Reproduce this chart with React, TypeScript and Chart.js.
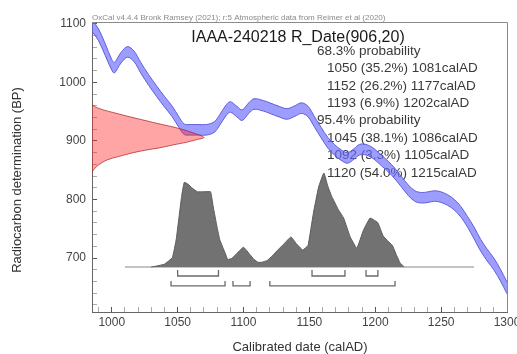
import React, { useEffect, useRef } from "react";
import { Chart, registerables } from "chart.js";

Chart.register(...registerables);

// Calibration curve (IntCal20)
const curveYears = [985, 990, 995, 1000, 1002, 1007, 1012, 1017, 1022, 1028, 1034, 1040, 1046, 1051, 1055, 1060, 1066, 1072, 1078, 1082, 1087, 1090, 1095, 1099, 1104, 1108, 1115, 1120, 1127, 1133, 1139, 1144, 1149, 1154, 1159, 1164, 1169, 1174, 1179, 1184, 1188, 1193, 1199, 1205, 1210, 1215, 1220, 1225, 1230, 1235, 1240, 1245, 1250, 1255, 1260, 1265, 1270, 1275, 1280, 1285, 1290, 1295, 1300];
const curveBP = [1097, 1081, 1056, 1030, 1025, 1042, 1052, 1044, 1025, 1004, 985, 967, 950, 932, 920, 919, 919, 919, 924, 936, 953, 958, 950, 944, 956, 963, 960, 956, 950, 946, 951, 956, 950, 932, 914, 897, 885, 876, 871, 878, 885, 885, 878, 866, 856, 844, 830, 816, 806, 803, 804, 806, 804, 799, 791, 779, 762, 743, 722, 705, 690, 671, 649];
const curveSigma = [10, 10, 10, 9, 9, 9, 9, 9, 9, 9, 9, 9, 9, 9, 9, 9, 9, 9, 9, 9, 9, 9, 9, 9, 9, 9, 9, 9, 9, 9, 9, 9, 9, 9, 9, 9, 9, 9, 9, 9, 9, 9, 9, 9, 9, 9, 9, 9, 9, 9, 9, 9, 9, 9, 9, 9, 9, 10, 10, 10, 10, 10, 10];

// Calibrated probability distribution (relative)
const histYears = [1030, 1034, 1040, 1046, 1049, 1053, 1055, 1058, 1061, 1065, 1070, 1075, 1077, 1080, 1082, 1086, 1088, 1091, 1094, 1100, 1105, 1108, 1111, 1114, 1118, 1122, 1126, 1131, 1136, 1140, 1145, 1149, 1153, 1157, 1161, 1164, 1167, 1172, 1176, 1181, 1186, 1191, 1196, 1199, 1202, 1206, 1210, 1213, 1216, 1219, 1222];
const histProb = [0, 0.01, 0.03, 0.1, 0.3, 0.75, 0.9, 0.88, 0.84, 0.8, 0.8, 0.8, 0.64, 0.42, 0.29, 0.15, 0.08, 0.09, 0.13, 0.21, 0.13, 0.08, 0.05, 0.05, 0.07, 0.12, 0.18, 0.25, 0.32, 0.25, 0.18, 0.23, 0.57, 0.85, 1.0, 0.86, 0.75, 0.61, 0.52, 0.32, 0.2, 0.39, 0.52, 0.5, 0.47, 0.33, 0.27, 0.23, 0.13, 0.04, 0];

// Radiocarbon measurement R_Date(906,20) shown on the BP axis (relative)
const rdateBP = [846, 850, 856, 862, 868, 873, 880, 885, 888, 893, 898, 902, 906, 914, 919, 924, 930, 936, 942, 948, 953, 958, 962];
const rdateProb = [0, 0.01, 0.04, 0.08, 0.14, 0.23, 0.37, 0.5, 0.6, 0.72, 0.85, 0.93, 1.0, 0.9, 0.82, 0.72, 0.58, 0.45, 0.32, 0.2, 0.1, 0.03, 0];

// Ranges
const range68Start = [1050, 1152, 1193];
const range68End = [1081, 1177, 1202];
const range68Pct = ["35.2", "26.2", "6.9"];
const range95Start = [1045, 1092, 1120];
const range95End = [1086, 1105, 1215];
const range95Pct = ["38.1", "3.3", "54.0"];

const xMajorTicks = [1000, 1050, 1100, 1150, 1200, 1250, 1300];
const yMajorTicks = [700, 800, 900, 1000, 1100];

const headerText = "OxCal v4.4.4 Bronk Ramsey (2021); r:5 Atmospheric data from Reimer et al (2020)";
const titleText = "IAAA-240218 R_Date(906,20)";
const xTitle = "Calibrated date (calAD)";
const yTitle = "Radiocarbon determination (BP)";

const FONT = "'Liberation Sans', Arial, Helvetica, sans-serif";

export default function App() {
  const ref = useRef<HTMLCanvasElement>(null);

  useEffect(() => {
    const canvas = ref.current;
    if (!canvas) return;

    const upper = curveYears.map((x, i) => ({ x, y: curveBP[i] + curveSigma[i] }));
    const lower = curveYears.map((x, i) => ({ x, y: curveBP[i] - curveSigma[i] }));
    const hist = histYears.map((x, i) => ({ x, y: histProb[i] }));
    const rdate = rdateBP.map((y, i) => ({ x: rdateProb[i], y }));

    const row68Line = -0.096, row68Tick = -0.032;
    const row95Line = -0.202, row95Tick = -0.149;
    const bracket = (s: number, e: number, line: number, tick: number) => ({
      type: "line",
      data: [
        { x: s, y: tick },
        { x: s, y: line },
        { x: e, y: line },
        { x: e, y: tick },
      ],
      xAxisID: "x",
      yAxisID: "y2",
      borderColor: "#6a6a6a",
      borderWidth: 1.3,
      pointRadius: 0,
      tension: 0,
      fill: false,
    });
    const brackets: any[] = [];
    range68Start.forEach((s, i) => brackets.push(bracket(s, range68End[i], row68Line, row68Tick)));
    range95Start.forEach((s, i) => brackets.push(bracket(s, range95End[i], row95Line, row95Tick)));

    const lines68 = range68Start.map((s, i) => `${s} (${range68Pct[i]}%) ${range68End[i]}calAD`);
    const lines95 = range95Start.map((s, i) => `${s} (${range95Pct[i]}%) ${range95End[i]}calAD`);

    const textPlugin = {
      id: "oxcalText",
      beforeDatasetsDraw(chart: any) {
        const { ctx, chartArea: ca } = chart;
        ctx.save();
        ctx.textBaseline = "middle";
        ctx.fillStyle = "#1a1a1a";
        ctx.font = `16px ${FONT}`;
        ctx.textAlign = "center";
        ctx.fillText(titleText, ca.left + 206, ca.top + 16);
        ctx.font = `13.5px ${FONT}`;
        ctx.fillStyle = "#3a3a3a";
        ctx.textAlign = "left";
        const step = 17.4;
        let y = ca.top + 29;
        ctx.fillText("68.3% probability", ca.left + 225, y);
        lines68.forEach((t) => {
          y += step;
          ctx.fillText(t, ca.left + 235, y);
        });
        y += step;
        ctx.fillText("95.4% probability", ca.left + 225, y);
        lines95.forEach((t) => {
          y += step;
          ctx.fillText(t, ca.left + 235, y);
        });
        ctx.restore();
      },
      afterDraw(chart: any) {
        const { ctx, chartArea: ca } = chart;
        ctx.save();
        // top and right frame
        ctx.strokeStyle = "#8a8a8a";
        ctx.lineWidth = 1;
        ctx.beginPath();
        ctx.moveTo(ca.left, ca.top + 0.5);
        ctx.lineTo(ca.right + 0.5, ca.top + 0.5);
        ctx.lineTo(ca.right + 0.5, ca.bottom);
        ctx.stroke();
        // header
        ctx.fillStyle = "#8a8a8a";
        ctx.font = `8px ${FONT}`;
        ctx.textAlign = "left";
        ctx.textBaseline = "alphabetic";
        ctx.fillText(headerText, ca.left, ca.top - 2);
        // axis titles
        ctx.fillStyle = "#333";
        ctx.font = `13px ${FONT}`;
        ctx.textAlign = "center";
        ctx.textBaseline = "middle";
        ctx.fillText(xTitle, 300, 347);
        ctx.translate(17, 180);
        ctx.rotate(-Math.PI / 2);
        ctx.fillText(yTitle, 0, 0);
        ctx.restore();
      },
    };

    const chart = new Chart(canvas, {
      type: "line",
      data: {
        datasets: [
          {
            data: rdate,
            indexAxis: "y",
            xAxisID: "x2",
            yAxisID: "y",
            borderColor: "rgba(170,30,30,0.7)",
            borderWidth: 1,
            backgroundColor: "rgba(255,40,40,0.42)",
            fill: { value: 0 },
            pointRadius: 0,
            tension: 0.3,
          } as any,
          {
            data: upper,
            xAxisID: "x",
            yAxisID: "y",
            borderColor: "#5f5fd6",
            borderWidth: 1,
            pointRadius: 0,
            tension: 0.35,
            fill: false,
          },
          {
            data: lower,
            xAxisID: "x",
            yAxisID: "y",
            borderColor: "#5f5fd6",
            borderWidth: 1,
            backgroundColor: "rgba(105,105,255,0.65)",
            pointRadius: 0,
            tension: 0.35,
            fill: "-1",
          },
          {
            data: hist,
            xAxisID: "x",
            yAxisID: "y2",
            borderColor: "#5c5c5c",
            borderWidth: 1,
            backgroundColor: "#727272",
            pointRadius: 0,
            tension: 0.1,
            fill: "origin",
          },
          {
            data: [
              { x: 1010, y: 0 },
              { x: 1275, y: 0 },
            ],
            xAxisID: "x",
            yAxisID: "y2",
            borderColor: "#c4c4c4",
            borderWidth: 2,
            pointRadius: 0,
            fill: false,
          },
          ...brackets,
        ],
      },
      options: {
        animation: false,
        responsive: false,
        events: [],
        layout: { padding: { top: 22, right: 10, left: 0, bottom: 0 } },
        plugins: {
          legend: { display: false },
          tooltip: { enabled: false },
          title: { display: false },
        },
        scales: {
          x: {
            type: "linear",
            position: "bottom",
            min: 985,
            max: 1300,
            afterBuildTicks: (s: any) => {
              const t: any[] = [];
              for (let v = 990; v <= 1300; v += 10) t.push({ value: v });
              s.ticks = t;
            },
            ticks: {
              autoSkip: false,
              maxRotation: 0,
              padding: 8,
              color: "#444",
              font: { size: 12, family: FONT },
              callback: (v: any) => (xMajorTicks.includes(Number(v)) ? String(v) : ""),
            },
            grid: {
              drawOnChartArea: false,
              tickLength: -5,
              tickColor: (c: any) => (c.tick && xMajorTicks.includes(c.tick.value) ? "#555" : "#aaa"),
            },
            border: { color: "#666", width: 1 },
            afterFit: (s: any) => {
              s.height = 42;
              s.paddingLeft = 0;
              s.paddingRight = 0;
            },
          },
          y: {
            type: "linear",
            position: "left",
            min: 608,
            max: 1103,
            afterBuildTicks: (s: any) => {
              const t: any[] = [];
              for (let v = 620; v <= 1100; v += 20) t.push({ value: v });
              s.ticks = t;
            },
            ticks: {
              autoSkip: false,
              padding: 11,
              color: "#444",
              font: { size: 12, family: FONT },
              callback: (v: any) => (yMajorTicks.includes(Number(v)) ? String(v) : ""),
            },
            grid: {
              drawOnChartArea: false,
              tickLength: -5,
              tickColor: (c: any) => (c.tick && yMajorTicks.includes(c.tick.value) ? "#555" : "#aaa"),
            },
            border: { color: "#666", width: 1 },
            afterFit: (s: any) => {
              s.width = 92;
              s.paddingTop = 0;
              s.paddingBottom = 0;
            },
          },
          x2: {
            type: "linear",
            axis: "x",
            display: false,
            min: 0,
            max: 3.705,
          },
          y2: {
            type: "linear",
            axis: "y",
            display: false,
            min: -0.479,
            max: 2.606,
          },
        },
      } as any,
      plugins: [textPlugin],
    });

    return () => chart.destroy();
  }, []);

  return (
    <div style={{ position: "fixed", left: 0, top: 0, width: 517, height: 354, background: "#fff" }}>
      <canvas ref={ref} width={517} height={354} />
    </div>
  );
}
